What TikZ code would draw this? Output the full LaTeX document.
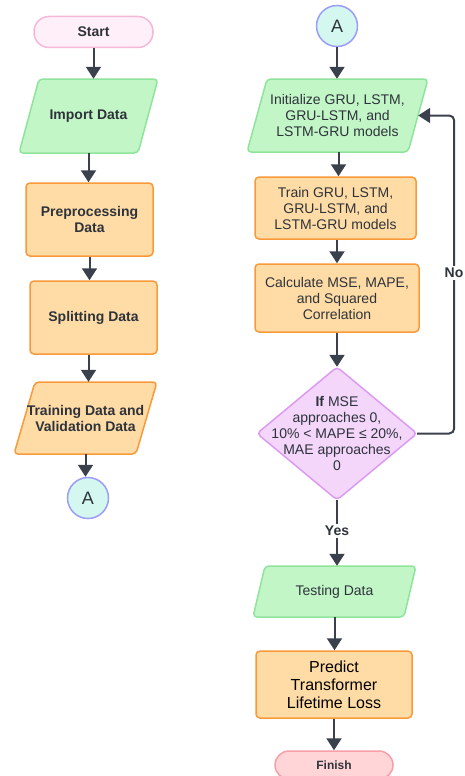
\documentclass[tikz,border=0pt]{standalone}
\usepackage{fontspec}
\setmainfont{Liberation Sans}
\usetikzlibrary{arrows.meta,calc}
\definecolor{ink}{HTML}{3A414C}
\definecolor{txt}{HTML}{2E333B}
\definecolor{startF}{HTML}{FFEFF8}
\definecolor{startB}{HTML}{F6B8D8}
\definecolor{finF}{HTML}{FFD5D8}
\definecolor{finB}{HTML}{F4A0A6}
\definecolor{greenF}{HTML}{C3F6C7}
\definecolor{greenB}{HTML}{8FE49B}
\definecolor{orangeF}{HTML}{FFDCA5}
\definecolor{orangeB}{HTML}{F99A3A}
\definecolor{diaF}{HTML}{F3D6FA}
\definecolor{diaB}{HTML}{DB9BF1}
\definecolor{circF}{HTML}{D4F7F0}
\definecolor{circB}{HTML}{9C9DF8}
\newcommand\para[8]{%
  \filldraw[#7, line width=1.5pt, rounded corners=4pt]
    ({#2-(#4+#6)/2+#6},{#3-#5/2}) -- ({#2+(#4+#6)/2},{#3-#5/2}) --
    ({#2+(#4+#6)/2-#6},{#3+#5/2}) -- ({#2-(#4+#6)/2},{#3+#5/2}) -- cycle;
  \node[base, minimum width={#4+#6}, minimum height=#5] (#1) at (#2,#3) {#8};}
\begin{document}
\begin{tikzpicture}[x=1pt,y=-1pt,
  base/.style={text=txt, font=\fontsize{14}{16}\selectfont, align=center, inner sep=0pt},
  bbase/.style={base, font=\fontsize{14}{16}\selectfont\bfseries},
  greenp/.style={draw=greenB, fill=greenF},
  orangep/.style={draw=orangeB, fill=orangeF},
  obox/.style={draw=orangeB, fill=orangeF, line width=1.5pt, rounded corners=4pt},
  term/.style={bbase, line width=1.5pt},
  conn/.style={base, circle, draw=circB, fill=circF, line width=1.5pt, minimum size=41pt,
    font=\fontsize{18}{20}\selectfont},
  arr/.style={draw=ink, line width=2pt, -{Triangle[length=12pt,width=15pt]}},
  lbl/.style={bbase, fill=white, inner sep=2pt}]
\useasboundingbox (0,0) rectangle (465,776);
% ---------- left column ----------
\node[term, draw=startB, fill=startF, rounded corners=15pt, minimum width=119pt, minimum height=31pt]
  (start) at (93.5,32) {Start};
\para{imp}{88.5}{116}{119}{74}{20}{greenp}{\bfseries Import Data}
\node[bbase, obox, minimum width=127pt, minimum height=73pt] (pre) at (89.5,219.5) {Preprocessing\\Data};
\node[bbase, obox, minimum width=127pt, minimum height=73pt] (spl) at (93.5,317.5) {Splitting Data};
\para{trn}{85.5}{418}{122}{72}{21}{orangep}{\bfseries Training Data and\\\bfseries Validation Data}
\node[conn] (a1) at (88,498) {A};
\draw[arr] (start.south) -- (start.south |- imp.north);
\draw[arr] (imp.south) -- (imp.south |- pre.north);
\draw[arr] (pre.south) -- (pre.south |- spl.north);
\draw[arr] ([xshift=-5pt]spl.south) -- ([xshift=-5pt]spl.south |- trn.north);
\draw[arr] (trn.south) -- (trn.south |- a1.north);
% ---------- right column ----------
\node[conn] (a2) at (337,26) {A};
\para{init}{337.5}{115.5}{161}{73}{20}{greenp}{Initialize GRU, LSTM,\\GRU-LSTM, and\\LSTM-GRU models}
\node[base, obox, minimum width=161pt, minimum height=62pt] (train) at (335.5,208) {Train GRU, LSTM,\\GRU-LSTM, and\\LSTM-GRU models};
\node[base, obox, minimum width=164pt, minimum height=68pt] (calc) at (337,298) {Calculate MSE, MAPE,\\and Squared\\Correlation};
\filldraw[draw=diaB, fill=diaF, line width=1.5pt, rounded corners=4pt]
  (337,367) -- (417,433.5) -- (337,500) -- (257,433.5) -- cycle;
\node[base, minimum width=160pt, minimum height=133pt] (dec) at (337,433.5)
  {\textbf{If} MSE\\approaches 0,\\10\% < MAPE ≤ 20\%,\\MAE approaches\\0};
\para{test}{334.5}{591.5}{151}{51}{12}{greenp}{Testing Data}
\node[base, obox, minimum width=156pt, minimum height=67pt, text=black, font=\fontsize{16}{18}\selectfont]
  (pred) at (334,684.5) {Predict\\Transformer\\Lifetime Loss};
\node[term, draw=finB, fill=finF, rounded corners=14pt, minimum width=118pt, minimum height=28pt,
  font=\fontsize{12}{14}\selectfont\bfseries] (fin) at (334,765) {Finish};
\draw[arr] (a2.south) -- (a2.south |- init.north);
\draw[arr] ([xshift=1pt]init.south) -- ([xshift=1pt]init.south |- train.north);
\draw[arr] ([xshift=1.5pt]train.south) -- ([xshift=1.5pt]train.south |- calc.north);
\draw[arr] (calc.south) -- (calc.south |- dec.north);
\draw[arr] (dec.south) -- (dec.south |- test.north);
\draw[arr] (test.south) -- (test.south |- pred.north);
\draw[arr] (pred.south) -- (pred.south |- fin.north);
\draw[arr, rounded corners=5pt] (dec.east) -- ++(37,0) |- ([xshift=-10pt]init.east);
\node[lbl] (no) at (454,273) {No};
\node[lbl] (yes) at (337,531) {Yes};
\end{tikzpicture}
\end{document}
